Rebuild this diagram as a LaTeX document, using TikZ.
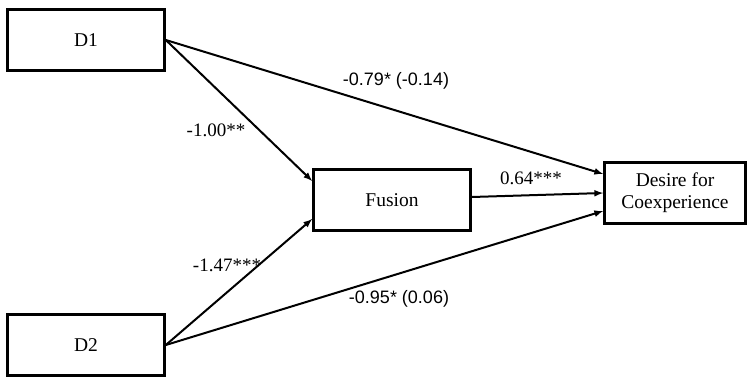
\documentclass[tikz,border=0pt]{standalone}
\usepackage{fontspec}
\setmainfont{Liberation Serif}
\newfontfamily\labelsans{Liberation Sans}
\begin{document}
\begin{tikzpicture}[>=latex, x=1pt, y=-1pt,
    varbox/.style={draw, line width=2.6pt, inner sep=0pt, align=center,
        minimum width=157pt, minimum height=61pt,
        font=\fontsize{19.5}{22}\selectfont},
    effect/.style={->, line width=2pt},
    coef/.style={font=\fontsize{19}{21}\selectfont},
    coefsans/.style={font=\labelsans\fontsize{18}{20}\selectfont}]
    \useasboundingbox (0,0) rectangle (754,378);
    \node[varbox] (d1) at (86,40) {D1};
    \node[varbox] (d2) at (86,345) {D2};
    \node[varbox] (fusion) at (392,200) {Fusion};
    \node[varbox, minimum width=141pt] (desire) at (675,193) {Desire for\\Coexperience};

    \draw[effect] (d1.east) -- ([yshift=19pt]fusion.west);
    \draw[effect] (d2.east) -- ([yshift=-19pt]fusion.west);
    \draw[effect] (d1.east) -- ([yshift=19pt]desire.west);
    \draw[effect] (d2.east) -- ([yshift=-18pt]desire.west);
    \draw[effect] ([yshift=3pt]fusion.east) -- (desire.west);

    \node[coef] (a1) at (216,130) {-1.00**};
    \node[coef] (a2) at (227,265) {-1.47***};
    \node[coef] (b) at (531,178) {0.64***};
    \node[coefsans] (c1) at (396,81) {-0.79* (-0.14)};
    \node[coefsans] (c2) at (399,299) {-0.95* (0.06)};
\end{tikzpicture}
\end{document}
